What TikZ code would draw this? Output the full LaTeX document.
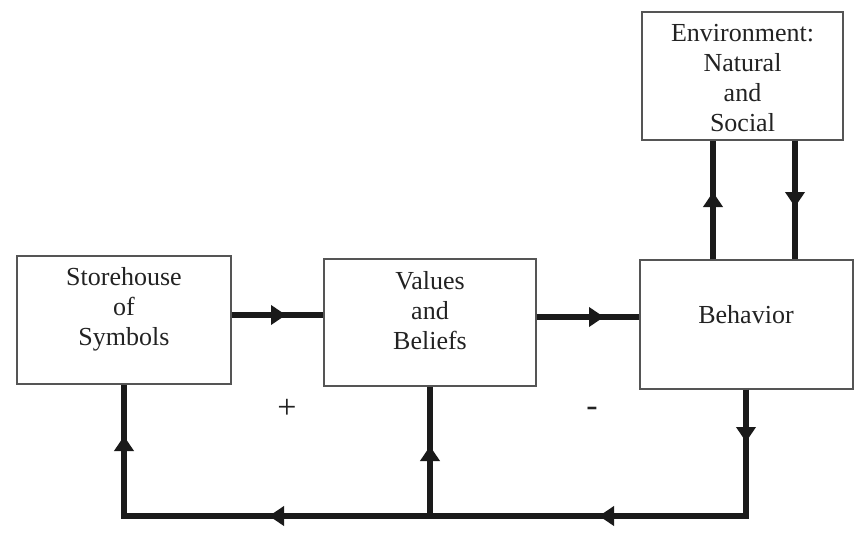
\documentclass[tikz,border=0pt]{standalone}
\usepackage{fontspec}
\setmainfont{Liberation Serif}
\usetikzlibrary{arrows.meta}
\definecolor{boxc}{HTML}{555555}
\definecolor{txtc}{HTML}{222222}
\definecolor{linec}{HTML}{1A1A1A}
\tikzset{
  box/.style={draw=boxc, line width=1.4pt, rectangle, inner sep=0pt},
  lbl/.style={text=txtc, align=center, font=\fontsize{26}{30}\selectfont, inner sep=0pt},
  sign/.style={text=txtc, font=\fontsize{34}{34}\selectfont, inner sep=0pt},
  conn/.style={draw=linec, line width=5.5pt, line join=miter, line cap=butt},
  tip/.style={conn, -{Triangle[length=15pt,width=19pt]}},
}
\begin{document}
\begin{tikzpicture}[x=1pt,y=-1pt]
\useasboundingbox (0,0) rectangle (861,535);
% boxes
\node[box, minimum width=214pt, minimum height=128pt] (S) at (124,320) {};
\node[box, minimum width=212pt, minimum height=127pt] (V) at (430,322.5) {};
\node[box, minimum width=213pt, minimum height=129pt] (B) at (746.5,324.5) {};
\node[box, minimum width=201pt, minimum height=128pt] (E) at (742.5,76) {};
% labels
\node[lbl] (St) at (124,309) {Storehouse\\of\\Symbols};
\node[lbl] (Vt) at (430,311) {Values\\and\\Beliefs};
\node[lbl] (Bt) at (746,315) {Behavior};
\node[lbl] (Et) at (742.5,78) {Environment:\\Natural\\and\\Social};
\node[sign] (plus) at (287,409) {+};
\node[sign] (minus) at (592,412) {-};
% tips
\coordinate (t1) at (286,315);
\coordinate (t2) at (604,317);
\coordinate (t3) at (713,192);
\coordinate (t4) at (795,207);
\coordinate (t5) at (746,442);
\coordinate (c1) at (746,516);
\coordinate (c2) at (124,516);
\coordinate (t6) at (599,516);
\coordinate (t7) at (269,516);
\coordinate (t8) at (124,436);
\coordinate (t9) at (430,446);
% S -> V
\draw[conn] (S.east |- t1) -- (V.west |- t1);
\draw[tip] (S.east |- t1) -- (t1);
% V -> B
\draw[conn] (V.east |- t2) -- (B.west |- t2);
\draw[tip] (V.east |- t2) -- (t2);
% B -> E
\draw[conn] (B.north -| t3) -- (E.south -| t3);
\draw[tip] (B.north -| t3) -- (t3);
% E -> B
\draw[conn] (E.south -| t4) -- (B.north -| t4);
\draw[tip] (E.south -| t4) -- (t4);
% feedback loop
\draw[conn] (B.south -| c1) -- (c1) -- (c2) -- (S.south -| c2);
\draw[tip] (B.south -| c1) -- (t5);
\draw[tip] (c1) -- (t6);
\draw[tip] (c1) -- (t7);
\draw[tip] (c2) -- (t8);
\draw[conn] (t9 |- c1) -- (V.south -| t9);
\draw[tip] (t9 |- c1) -- (t9);
\end{tikzpicture}
\end{document}
